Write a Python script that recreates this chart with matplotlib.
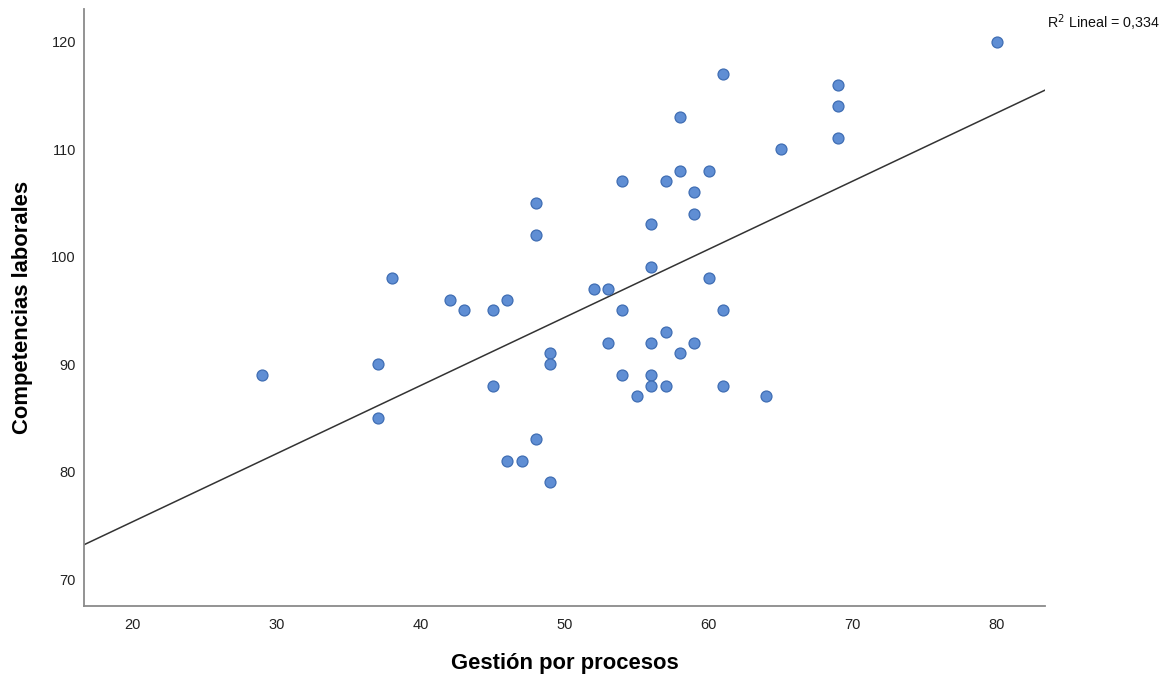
import matplotlib
matplotlib.use("Agg")
import matplotlib.pyplot as plt
import numpy as np

plt.rcParams['font.family'] = ['Liberation Sans', 'DejaVu Sans']

gestion = [29, 37, 37, 38, 42, 43, 45, 45, 46, 46, 47, 48, 48, 48, 49, 49, 49,
           52, 53, 53, 54, 54, 54, 55, 56, 56, 56, 56, 56, 57, 57, 57, 58, 58, 58,
           59, 59, 59, 60, 60, 61, 61, 61, 64, 65, 69, 69, 69, 80]
competencias = [89, 90, 85, 98, 96, 95, 95, 88, 96, 81, 81, 105, 102, 83, 91, 90, 79,
                97, 97, 92, 107, 95, 89, 87, 103, 99, 92, 89, 88, 107, 93, 88, 113, 108, 91,
                106, 104, 92, 108, 98, 117, 95, 88, 87, 110, 116, 114, 111, 120]
x_ticks = [20, 30, 40, 50, 60, 70, 80]
y_ticks = [70, 80, 90, 100, 110, 120]
r2_label = "R$^2$ Lineal = 0,334"

fig = plt.figure(figsize=(11.71, 6.78), dpi=100)
ax = fig.add_axes([0.072, 0.1062, 0.8205, 0.8805])

xmin, xmax = 16.64, 83.35
ymin, ymax = 67.49, 123.04

ax.scatter(gestion, competencias, s=62, color='#5F8ED4', edgecolors='#3F6DB3',
           linewidths=0.9, zorder=3)

slope, intercept = np.polyfit(gestion, competencias, 1)
xs = np.array([xmin, xmax])
ax.plot(xs, slope * xs + intercept, color='#333333', lw=1.1, zorder=2)

ax.set_xlim(xmin, xmax)
ax.set_ylim(ymin, ymax)
ax.set_xticks(x_ticks)
ax.set_yticks(y_ticks)
ax.tick_params(axis='y', length=0, labelsize=10.5, colors='#222222', pad=6)
ax.tick_params(axis='x', length=0, labelsize=10.5, colors='#222222', pad=9)
for s in ['top', 'right']:
    ax.spines[s].set_visible(False)
for s in ['left', 'bottom']:
    ax.spines[s].set_color('#8a8a8a')
    ax.spines[s].set_linewidth(1.3)

ax.set_xlabel("Gestión por procesos", fontsize=15.8, fontweight='bold', labelpad=15)
ax.set_ylabel("Competencias laborales", fontsize=15.8, fontweight='bold', labelpad=13)

fig.text(0.894, 0.967, r2_label, fontsize=10.3, ha='left', va='center', color='#111111')

fig.savefig("out.png", dpi=100)
